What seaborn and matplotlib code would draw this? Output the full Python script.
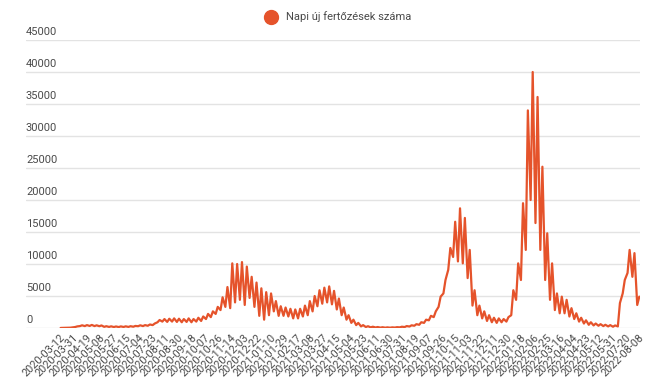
import numpy as np
import pandas as pd
import matplotlib
matplotlib.use("Agg")
import matplotlib.pyplot as plt
from matplotlib.lines import Line2D
import seaborn as sns

# --- Data: weekly peak / weekly trough of daily new cases ---
high_2020 = [20, 60, 100, 250, 420, 450, 480, 420, 400, 280, 260, 240, 250, 260,
             280, 320, 420, 450, 550, 700, 1250, 1400, 1450, 1500, 1450, 1400,
             1500, 1400, 1600, 1800, 2200, 2600, 3300, 4800, 6400, 10100, 10000,
             10300, 9600, 8000, 7100, 6200]
low_2020 = [10, 30, 50, 150, 300, 300, 320, 300, 280, 180, 170, 150, 150, 160,
            170, 200, 280, 300, 350, 450, 900, 1000, 950, 1000, 950, 900,
            950, 900, 1000, 1100, 1400, 1700, 2200, 2800, 3300, 3100, 4000,
            4400, 3600, 4700, 3300, 1900]

high_2021 = [5600, 5400, 4200, 3400, 3200, 3000, 2900, 3000, 3500, 4200, 5000,
             5900, 6300, 6500, 5800, 4600, 3200, 2000, 1300, 800, 450, 280, 200,
             150, 120, 100, 100, 130, 200, 300, 420, 600, 900, 1300, 1900, 2600,
             4900, 7500, 12500, 16600, 18700, 17200, 12200, 5900, 3500, 2600,
             2000, 1600, 1500, 1400, 1700, 5900]
low_2021 = [1300, 2000, 2600, 1900, 1900, 1800, 1500, 1500, 1800, 2000, 2600,
            3400, 3800, 4000, 3700, 2900, 2000, 1300, 800, 450, 250, 150, 100,
            80, 60, 50, 50, 70, 100, 150, 230, 350, 500, 800, 1200, 1700,
            3300, 5400, 9100, 11100, 10400, 10100, 7800, 3500, 2000, 1500,
            1100, 900, 800, 900, 1000, 2000]

high_2022 = [10100, 19500, 34000, 40000, 36100, 25200, 14800, 10100, 5400, 4900,
             4400, 3100, 2300, 1600, 1200, 900, 700, 600, 500, 450, 400, 3900,
             7500, 12200, 11700, 4900]
low_2022 = [4400, 7500, 12200, 20000, 16400, 12200, 7500, 4400, 2800, 2300,
            2300, 1800, 1400, 1000, 700, 500, 400, 350, 300, 250, 200, 250,
            5400, 8600, 8000, 3600]

tick_labels = [
    "2020-03-12", "2020-03-31", "2020-04-19", "2020-05-08", "2020-05-27",
    "2020-06-15", "2020-07-04", "2020-07-23", "2020-08-11", "2020-08-30",
    "2020-09-18", "2020-10-07", "2020-10-26", "2020-11-14", "2020-12-03",
    "2020-12-22", "2021-01-10", "2021-01-29", "2021-02-17", "2021-03-08",
    "2021-03-27", "2021-04-15", "2021-05-04", "2021-05-23", "2021-06-11",
    "2021-06-30", "2021-07-31", "2021-08-19", "2021-09-07", "2021-09-26",
    "2021-10-15", "2021-11-03", "2021-11-22", "2021-12-11", "2021-12-30",
    "2022-01-18", "2022-02-06", "2022-02-25", "2022-03-16", "2022-04-04",
    "2022-04-23", "2022-05-12", "2022-05-31", "2022-07-20", "2022-08-08",
]
y_ticks = [0, 5000, 10000, 15000, 20000, 25000, 30000, 35000, 40000, 45000]
series_name = "Napi új fertőzések száma"

# --- Build the daily-index series (trough then peak in every week) ---
highs = high_2020 + high_2021 + high_2022
lows = low_2020 + low_2021 + low_2022
rows = []
for w, (lo, hi) in enumerate(zip(lows, highs)):
    rows.append((7 * w + 1, lo))
    rows.append((7 * w + 4, hi))
df = pd.DataFrame(rows, columns=["day", "cases"])

line_color = "#e5532b"
text_color = "#4a4a4a"

sns.set_theme(style="white")
plt.rcParams["font.family"] = ["Roboto", "DejaVu Sans"]

fig = plt.figure(figsize=(6.71, 3.85), dpi=100)
ax = fig.add_axes([26 / 671, 57 / 385, 614 / 671, 288 / 385])

sns.lineplot(data=df, x="day", y="cases", ax=ax, color=line_color,
             linewidth=1.6, estimator=None)

ax.set_xlim(-49, 838)
ax.set_ylim(0, 45000)
ax.set_xlabel("")
ax.set_ylabel("")
for s in ax.spines.values():
    s.set_visible(False)

# horizontal grid with labels sitting above the lines
ax.set_yticks(y_ticks)
ax.set_yticklabels([])
ax.tick_params(axis="y", length=0)
ax.yaxis.grid(True, color="#e3e3e3", linewidth=1)
ax.set_axisbelow(True)
for v in y_ticks:
    ax.annotate(str(v), xy=(0, v), xycoords=("axes fraction", "data"),
                xytext=(0, 3), textcoords="offset pixels",
                ha="left", va="bottom", fontsize=8, color=text_color)

ax.set_xticks([19 * i for i in range(len(tick_labels))])
ax.set_xticklabels(tick_labels, rotation=45, ha="right",
                   rotation_mode="anchor", fontsize=7.8, color=text_color)
ax.tick_params(axis="x", length=0, pad=3)

handle = Line2D([], [], marker="o", color=line_color, linestyle="none",
                markersize=10)
fig.legend(handles=[handle], labels=[series_name], loc="center",
           bbox_to_anchor=(0.5, 1 - 17 / 385), frameon=False, fontsize=8,
           handletextpad=0.4, labelcolor=text_color)

fig.savefig("out.png", dpi=100)
